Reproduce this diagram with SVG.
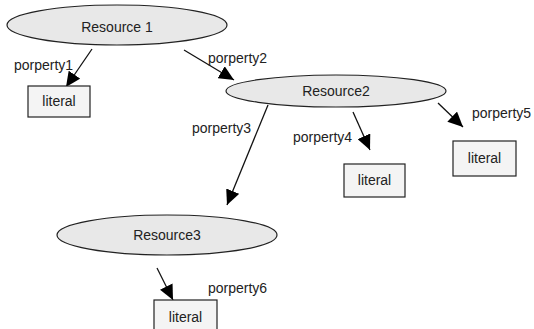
<svg xmlns="http://www.w3.org/2000/svg" width="534" height="329" viewBox="0 0 534 329">
  <style>
    .res { fill: #e8e8e8; stroke: #222; stroke-width: 1.2; }
    .lit { fill: #f4f4f4; stroke: #222; stroke-width: 1.2; }
    .edge { stroke: #111; stroke-width: 1.3; fill: none; marker-end: url(#arrow); }
    text { font-family: "Liberation Sans", Arial, sans-serif; font-size: 14px; fill: #222; }
    .c { text-anchor: middle; }
  </style>
  <defs>
    <marker id="arrow" markerUnits="userSpaceOnUse" markerWidth="16" markerHeight="14" refX="15" refY="7" orient="auto">
      <path d="M0,0 L15,7 L0,14 Z" fill="#000"/>
    </marker>
  </defs>
  <rect width="534" height="329" fill="#fff"/>

  <g id="connectors">
    <line class="edge" x1="92" y1="49" x2="66" y2="87"/>
    <line class="edge" x1="184" y1="50" x2="234" y2="80"/>
    <line class="edge" x1="268" y1="105" x2="227" y2="205"/>
    <line class="edge" x1="353" y1="112" x2="370" y2="150"/>
    <line class="edge" x1="438" y1="103" x2="463" y2="127"/>
    <line class="edge" x1="157" y1="268" x2="173" y2="300"/>
    <text x="14" y="70">porperty1</text>
    <text x="208" y="63">porperty2</text>
    <text x="192" y="133">porperty3</text>
    <text x="293" y="142">porperty4</text>
    <text x="472" y="118">porperty5</text>
    <text x="208" y="293">porperty6</text>
  </g>

  <g id="resource1">
    <ellipse class="res" cx="117" cy="25" rx="110" ry="20"/>
    <text class="c" x="117" y="32">Resource 1</text>
  </g>
  <g id="resource2">
    <ellipse class="res" cx="336" cy="91" rx="110" ry="16"/>
    <text class="c" x="336" y="96">Resource2</text>
  </g>
  <g id="resource3">
    <ellipse class="res" cx="167" cy="235" rx="110" ry="20"/>
    <text class="c" x="167" y="240">Resource3</text>
  </g>

  <g id="literal1">
    <rect class="lit" x="28" y="86" width="62" height="31"/>
    <text class="c" x="59" y="106">literal</text>
  </g>
  <g id="literal4">
    <rect class="lit" x="344" y="164" width="61" height="33"/>
    <text class="c" x="374.5" y="185">literal</text>
  </g>
  <g id="literal5">
    <rect class="lit" x="453" y="141" width="63" height="35"/>
    <text class="c" x="484.5" y="163">literal</text>
  </g>
  <g id="literal6">
    <rect class="lit" x="154" y="300" width="63" height="34"/>
    <text class="c" x="185.5" y="322">literal</text>
  </g>
</svg>
